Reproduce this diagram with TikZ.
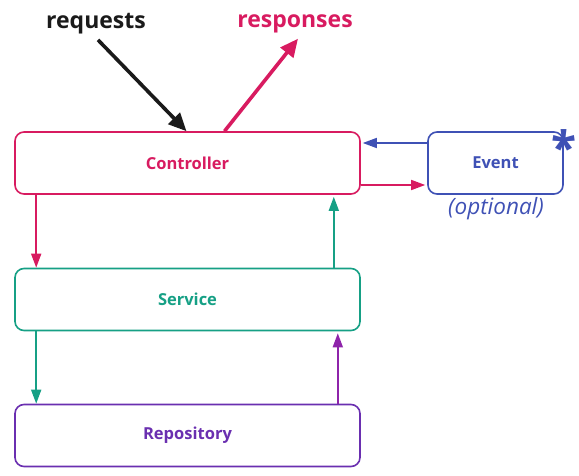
\documentclass[tikz,border=0pt]{standalone}
\usepackage{fontspec}
\setmainfont{Open Sans}
\usepackage{tikz}
\usetikzlibrary{arrows.meta,positioning,calc}
\definecolor{ctrlcol}{HTML}{D81B60}
\definecolor{servcol}{HTML}{16A085}
\definecolor{repocol}{HTML}{6A2FB0}
\definecolor{repoarr}{HTML}{8E24AA}
\definecolor{eventcol}{HTML}{3F51B5}
\definecolor{reqcol}{HTML}{1A1A1A}

\begin{document}
\begin{tikzpicture}[
  x=1pt, y=-1pt,
  layer/.style={rectangle, draw, line width=1.6pt, fill=white, rounded corners=9pt, minimum width=345pt, minimum height=62pt, font=\bfseries\fontsize{16.5}{20}\selectfont},
  link/.style={-{Triangle[length=14pt, width=10pt]}, line width=1.6pt},
  bigarrow/.style={-{Triangle[length=18pt, width=16pt]}, line width=3.6pt},
]
  \useasboundingbox (0,0) rectangle (579,476);

  \node[layer, draw=ctrlcol, text=ctrlcol] (ctrl) at (187.5,163) {Controller};
  \node[layer, draw=servcol, text=servcol] (service) at (187.5,299.5) {Service};
  \node[layer, draw=repocol, text=repocol] (repo) at (187.5,435.5) {Repository};
  \node[layer, draw=eventcol, text=eventcol, minimum width=135pt] (event) at (495.5,163) {Event};

  \node[font=\bfseries\fontsize{46}{46}\selectfont, text=eventcol] (star) at (564,147) {*};
  \node[font=\itshape\fontsize{22.5}{26}\selectfont, text=eventcol] (optional) at (496,209) {(optional)};
  \node[font=\bfseries\fontsize{23}{27}\selectfont, text=reqcol] (requests) at (96,24) {requests};
  \node[font=\bfseries\fontsize{23}{27}\selectfont, text=ctrlcol] (responses) at (295,24) {responses};

  % incoming / outgoing
  \draw[bigarrow, reqcol] ([xshift=2pt,yshift=-2pt]requests.south) -- ([xshift=-1pt]ctrl.north);
  \draw[bigarrow, ctrlcol] ([xshift=37pt]ctrl.north) -- ([xshift=3pt,yshift=-2pt]responses.south);

  % between layers
  \draw[link, ctrlcol] ([xshift=22pt]ctrl.south west) -- ([xshift=22pt]service.north west);
  \draw[link, servcol] ([xshift=-27pt]service.north east) -- ([xshift=-27pt,yshift=-2pt]ctrl.south east);
  \draw[link, servcol] ([xshift=22pt]service.south west) -- ([xshift=22pt]repo.north west);
  \draw[link, repoarr] ([xshift=-23pt]repo.north east) -- ([xshift=-23pt,yshift=-2pt]service.south east);

  % event
  \draw[link, eventcol] ([yshift=20pt]event.west) -- ([xshift=2pt,yshift=20pt]ctrl.east);
  \draw[link, ctrlcol] ([yshift=-22pt]ctrl.east) -- ([xshift=-2pt,yshift=-22pt]event.west);
\end{tikzpicture}
\end{document}
